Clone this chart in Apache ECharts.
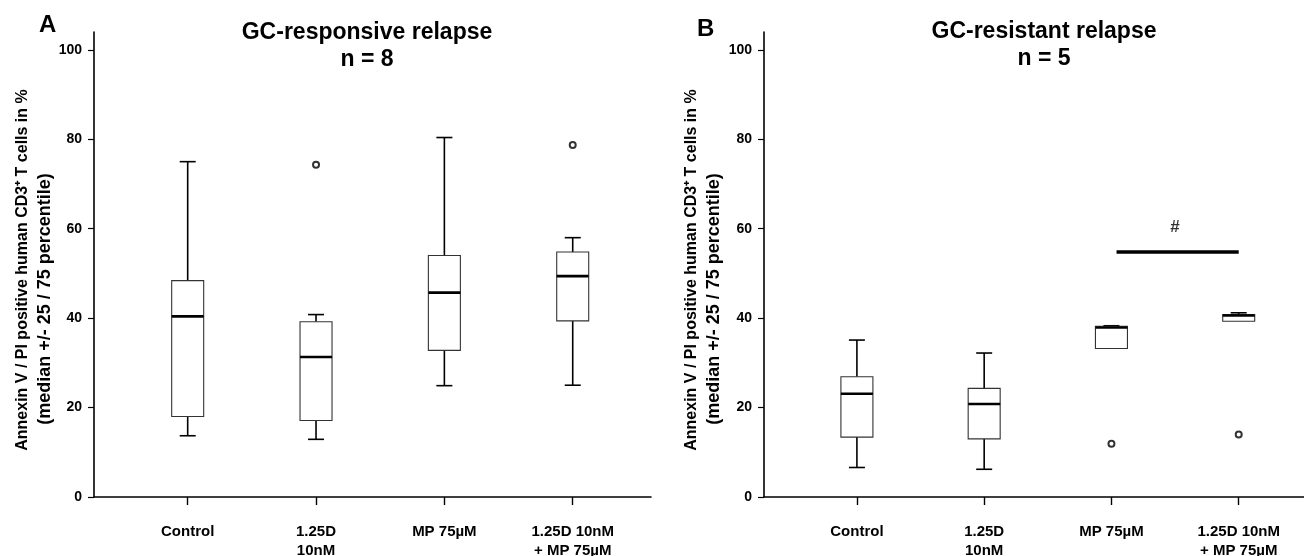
<!DOCTYPE html>
<html><head><meta charset="utf-8">
<script src="https://cdn.jsdelivr.net/npm/echarts@6/dist/echarts.min.js"></script>
<style>html,body{margin:0;padding:0;background:#fff}#c{width:1304px;height:556px}</style>
</head><body><div id="c"></div>
<script>
// ---- data ----
const categories = ['Control', '1.25D\n10nM', 'MP 75µM', '1.25D 10nM\n+ MP 75µM'];
const categoryPos = [0, 1, 2, 3];
const yTicks = [0, 20, 40, 60, 80, 100];
// each box: [min, Q1, median, Q3, max]
const boxesA = [
  [13.7, 18.0, 40.4, 48.4, 75.0],
  [12.9, 17.1, 31.3, 39.2, 40.8],
  [24.9, 32.8, 45.7, 54.0, 80.4],
  [25.0, 39.4, 49.4, 54.8, 58.0]
];
const outliersA = [[1, 74.3], [3, 78.7]];
const boxesB = [
  [6.6, 13.4, 23.1, 26.9, 35.1],
  [6.2, 13.0, 20.8, 24.3, 32.2],
  [33.2, 33.2, 37.9, 38.2, 38.3],
  [39.3, 39.3, 40.6, 40.8, 41.2]
];
const outliersB = [[2, 11.9], [3, 14.0]];
const sigBarB = [[2.04, 54.8], [3, 54.8]];
const sigMarkB = [[2.5, 60.4]];
const titleA = 'GC-responsive relapse\nn = 8';
const titleB = 'GC-resistant relapse\nn = 5';
const yName1 = 'Annexin V / PI positive human CD3⁺ T cells in %';
const yName2 = '(median +/- 25 / 75 percentile)';

// ---- rendering ----
const FONT = '"Liberation Sans", Arial, sans-serif';
function renderBox(params, api) {
  const x = api.value(0);
  const pMin = api.coord([x, api.value(1)]);
  const pQ1 = api.coord([x, api.value(2)]);
  const pMed = api.coord([x, api.value(3)]);
  const pQ3 = api.coord([x, api.value(4)]);
  const pMax = api.coord([x, api.value(5)]);
  const w = 32, cw = 16, cx = pMed[0];
  const ws = { stroke: '#000', lineWidth: 1.6 };
  const ch = [];
  if (pQ3[1] - pMax[1] > 0.3) {
    ch.push({ type: 'line', shape: { x1: cx, y1: pQ3[1], x2: cx, y2: pMax[1] }, style: ws });
    ch.push({ type: 'line', shape: { x1: cx - cw / 2, y1: pMax[1], x2: cx + cw / 2, y2: pMax[1] }, style: ws });
  }
  if (pMin[1] - pQ1[1] > 0.3) {
    ch.push({ type: 'line', shape: { x1: cx, y1: pQ1[1], x2: cx, y2: pMin[1] }, style: ws });
    ch.push({ type: 'line', shape: { x1: cx - cw / 2, y1: pMin[1], x2: cx + cw / 2, y2: pMin[1] }, style: ws });
  }
  ch.push({ type: 'rect', shape: { x: cx - w / 2, y: pQ3[1], width: w, height: pQ1[1] - pQ3[1] },
            style: { fill: '#fff', stroke: '#333', lineWidth: 1.1 } });
  ch.push({ type: 'line', shape: { x1: cx - w / 2, y1: pMed[1], x2: cx + w / 2, y2: pMed[1] },
            style: { stroke: '#000', lineWidth: 2.6 } });
  return { type: 'group', children: ch };
}

function xAxisFor(idx, min, max) {
  return {
    type: 'value', gridIndex: idx, min: min, max: max,
    splitLine: { show: false },
    axisLine: { show: true, onZero: false, lineStyle: { color: '#000', width: 1.6 } },
    axisTick: { show: true, customValues: categoryPos, length: 8, lineStyle: { color: '#000', width: 1.4 } },
    axisLabel: { show: true, customValues: categoryPos, formatter: v => categories[Math.round(v)],
      color: '#000', fontFamily: FONT, fontWeight: 'bold', fontSize: 15, lineHeight: 19, margin: 25 }
  };
}
function yAxisFor(idx) {
  return {
    type: 'value', gridIndex: idx, min: 0, max: 104,
    splitLine: { show: false },
    axisLine: { show: true, onZero: false, lineStyle: { color: '#000', width: 1.6 } },
    axisTick: { show: true, customValues: yTicks, length: 6, lineStyle: { color: '#000', width: 1.2 } },
    axisLabel: { show: true, customValues: yTicks, color: '#000', fontFamily: FONT, fontWeight: 'bold', fontSize: 14, margin: 12 }
  };
}
function boxSeries(idx, boxes) {
  return { type: 'custom', xAxisIndex: idx, yAxisIndex: idx, renderItem: renderBox,
    encode: { x: 0, y: [1, 2, 3, 4, 5] }, data: boxes.map((b, i) => [categoryPos[i]].concat(b)), z: 2 };
}
function outlierSeries(idx, pts) {
  return { type: 'scatter', xAxisIndex: idx, yAxisIndex: idx, data: pts, symbol: 'emptyCircle', symbolSize: 6,
    itemStyle: { color: '#000', borderColor: '#000', borderWidth: 1 }, z: 3 };
}
function rotText(x, y, text, size) {
  return { type: 'text', x: x, y: y, rotation: Math.PI / 2,
    style: { text: text, fill: '#000', font: 'bold ' + size + 'px ' + FONT, align: 'center', verticalAlign: 'middle' } };
}

const chart = echarts.init(document.getElementById('c'), null, { renderer: 'canvas' });
chart.setOption({
  animation: false,
  backgroundColor: '#fff',
  title: [
    { text: titleA, left: 367, top: 19, textAlign: 'center', padding: 0,
      textStyle: { fontFamily: FONT, fontWeight: 'bold', fontSize: 23, lineHeight: 27, color: '#000' } },
    { text: titleB, left: 1044, top: 18, textAlign: 'center', padding: 0,
      textStyle: { fontFamily: FONT, fontWeight: 'bold', fontSize: 23, lineHeight: 27, color: '#000' } },
    { text: 'A', left: 39, top: 13, padding: 0, textStyle: { fontFamily: FONT, fontWeight: 'bold', fontSize: 24, color: '#000' } },
    { text: 'B', left: 697, top: 17, padding: 0, textStyle: { fontFamily: FONT, fontWeight: 'bold', fontSize: 24, color: '#000' } }
  ],
  graphic: [
    rotText(23, 270, yName1, 16),
    rotText(45, 299, yName2, 18),
    rotText(692, 270, yName1, 16),
    rotText(714, 299, yName2, 18)
  ],
  grid: [
    { left: 94, right: 653, top: 32, bottom: 59, outerBoundsMode: 'none', containLabel: false },
    { left: 764, right: 0, top: 32, bottom: 59, outerBoundsMode: 'none', containLabel: false }
  ],
  xAxis: [xAxisFor(0, -0.73, 3.61), xAxisFor(1, -0.73, 3.513)],
  yAxis: [yAxisFor(0), yAxisFor(1)],
  series: [
    boxSeries(0, boxesA), outlierSeries(0, outliersA),
    boxSeries(1, boxesB), outlierSeries(1, outliersB),
    { type: 'line', xAxisIndex: 1, yAxisIndex: 1, data: sigBarB, symbol: 'none',
      lineStyle: { color: '#000', width: 3.5 }, z: 3 },
    { type: 'scatter', xAxisIndex: 1, yAxisIndex: 1, data: sigMarkB, symbolSize: 1,
      itemStyle: { color: 'rgba(0,0,0,0)' },
      label: { show: true, position: 'inside', formatter: '#', color: '#000', fontFamily: FONT, fontWeight: 'bold', fontSize: 17 } }
  ]
});
</script>
</body></html>
